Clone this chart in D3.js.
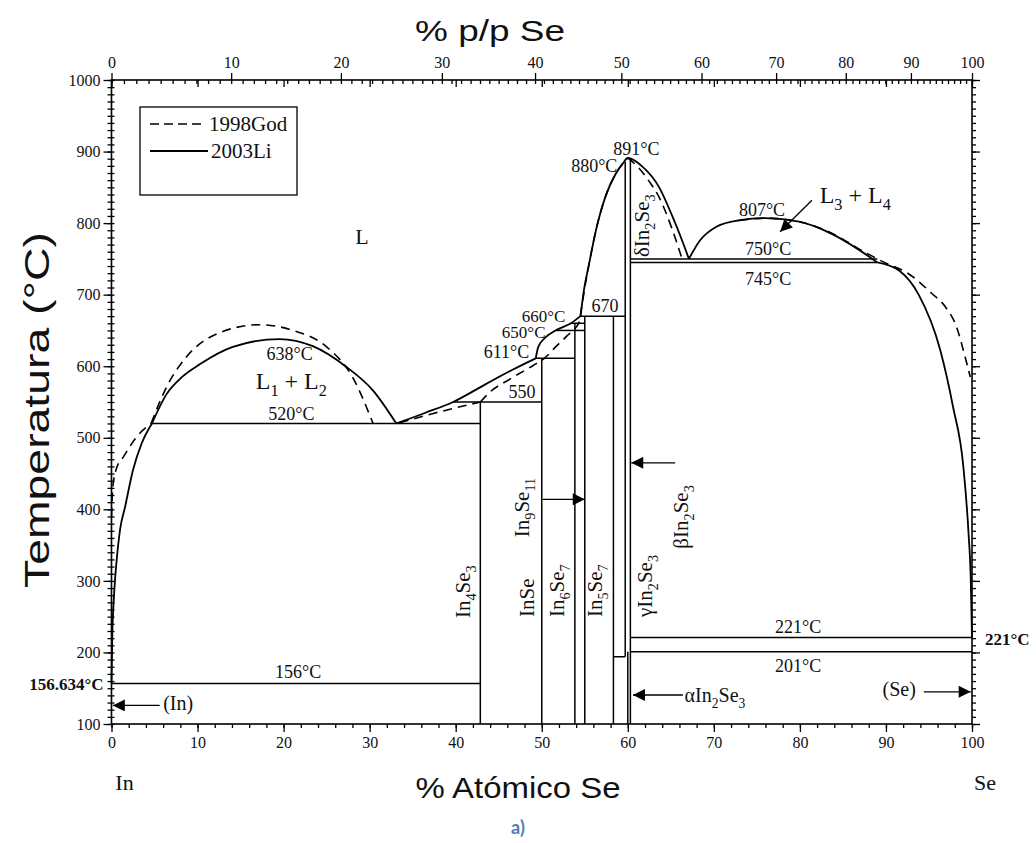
<!DOCTYPE html>
<html>
<head>
<meta charset="utf-8">
<title>In–Se</title>
<script src="https://cdn.jsdelivr.net/npm/d3@7"></script>
<style>
  body { margin: 0; background: #fff; }
  svg { display: block; }
  .serif { font-family: "Liberation Serif", "Times New Roman", serif; fill: #111; }
  .sans { font-family: "Liberation Sans", Arial, sans-serif; fill: #111; }
</style>
</head>
<body>
<svg id="chart" width="1036" height="843"></svg>
<script>
// In–Se phase diagram. Compositions in at.% Se, temperatures in °C.

// 2003Li assessment (solid lines)
const liqInSide   = [[0,156.634],[0.1,230],[0.2,259],[0.4,300],[0.6,329],[1.0,372],[1.57,403],[2.5,455],[3.5,492],[4.7,520]];
const domeL1L2    = [[4.7,520],[6.4,561],[8.2,585],[10.3,603],[14.1,627],[19.5,638],[23.4,628],[27.3,599],[30.4,566],[33.1,520]];
const liqMidA     = [[33.1,520],[36.5,535],[39.7,550],[43.5,575],[46.6,595],[49.3,611]];
const liqMidB     = [[49.3,611],[49.6,627],[50.5,641],[51.6,650],[53.4,660],[54.5,670]];
const liqIn2Se3   = [[54.5,670],[54.9,706],[55.5,743],[56.3,790],[57.4,837],[58.6,869],[59.4,883],[60,891],[61.7,879],[63.6,851],[65.2,809],[66.3,776],[67.1,750]];
const domeL3L4    = [[67.1,750],[68.4,776],[70.3,795],[73,804],[76,807],[79.9,802],[83.7,785],[86.7,764],[89,745]];
const liqSeSide   = [[89,745],[91.6,733],[93.8,700],[96.3,623],[97.8,543],[99,459],[99.6,366],[99.85,305],[100,221]];

// 1998God assessment (dashed lines)
const godInSide   = [[0,390],[0.15,431],[0.6,458],[1.37,473],[2.9,501],[4.6,520]];
const godL1L2     = [[4.6,520],[6.4,571],[8.7,613],[12.2,645],[17.2,658],[21.1,650],[25,627],[28,585],[30.4,520]];
const godMidA     = [[33.5,521],[37.4,534],[42.86,550]];
const godMidB     = [[42.86,550],[43.9,563],[46.3,582],[49,601],[50.2,610],[51.7,628],[52.9,642],[54.4,663],[54.6,679],[55,710],[55.5,743],[56.3,790],[57.4,837],[58.6,869],[59.4,883],[60,891]];
const godIn2Se3R  = [[60,891],[61.2,878],[62.5,858],[63.6,837],[65.2,790],[66.3,750]];
const godSeSide   = [[73,804],[76,807],[79.9,802],[83.7,786],[87,763],[90,744],[92.4,731],[95.3,702],[96.9,683],[98.2,655],[99.2,613],[99.8,585]];

// invariant reactions (horizontal lines)
const isoT    = [156.634, 520, 550, 611, 650, 660, 670, 750, 745, 221, 201, 194];
const isoFrom = [0, 4.7, 39.7, 49.3, 51.6, 53.4, 54.5, 60.3, 60.3, 60.3, 60.3, 58.33];
const isoTo   = [42.86, 42.86, 50, 53.85, 55, 55, 59.7, 89, 89, 100, 100, 59.7];

// compound lines (vertical)
const phaseX      = [42.86, 50, 53.85, 55, 58.33, 59.7, 60.3, 60.0];
const phaseBottom = [100, 100, 100, 100, 100, 194, 100, 100];
const phaseTop    = [550, 611, 660, 670, 670, 886, 891, 201];

// axis ticks
const atTicks  = d3.range(0, 101, 10);
const tTicks   = d3.range(100, 1001, 100);
const wtTicks  = d3.range(0, 101, 10);

const svg = d3.select("#chart");
const x = d3.scaleLinear().domain([0, 100]).range([111.5, 972]);
const y = d3.scaleLinear().domain([100, 1000]).range([724, 80]);

// weight % Se -> atomic % Se
const M_IN = 114.82, M_SE = 78.97;
const wtToAt = w => 100 * (w / M_SE) / (w / M_SE + (100 - w) / M_IN);
const wtAll = d3.range(0, 101, 1);
const xTop = d3.scaleLinear().domain(wtAll).range(wtAll.map(w => x(wtToAt(w))));

// ---- axes ----
function styleAxis(sel, fs) {
  sel.select(".domain").remove();
  sel.selectAll("line").attr("stroke", "#000").attr("stroke-width", 1.3);
  sel.selectAll("text").attr("class", "serif").attr("font-size", fs).attr("fill", "#111");
}
const intFmt = d3.format("d");
const gx = svg.append("g").attr("transform", `translate(0,${y(100)})`)
  .call(d3.axisBottom(x).tickValues(atTicks).tickFormat(intFmt).tickSize(8).tickPadding(5));
styleAxis(gx, 16);
const gxm = svg.append("g").attr("transform", `translate(0,${y(100)})`)
  .call(d3.axisBottom(x).tickValues(d3.range(0, 101, 2)).tickSize(4).tickFormat(""));
styleAxis(gxm, 16);

const gt = svg.append("g").attr("transform", `translate(0,${y(1000)})`)
  .call(d3.axisTop(xTop).tickValues(wtTicks).tickFormat(intFmt).tickSize(7).tickPadding(5));
styleAxis(gt, 16);
const gtm = svg.append("g").attr("transform", `translate(0,${y(1000)})`)
  .call(d3.axisBottom(xTop).tickValues(wtAll).tickSize(4).tickFormat(""));
styleAxis(gtm, 16);
const gti = svg.append("g").attr("transform", `translate(0,${y(1000)})`)
  .call(d3.axisBottom(x).tickValues(atTicks).tickSize(7).tickFormat(""));
styleAxis(gti, 16);

const gy = svg.append("g").attr("transform", `translate(${x(0)},0)`)
  .call(d3.axisLeft(y).tickValues(tTicks).tickFormat(intFmt).tickSize(8).tickPadding(3));
styleAxis(gy, 16);
const gym = svg.append("g").attr("transform", `translate(${x(0)},0)`)
  .call(d3.axisLeft(y).tickValues(d3.range(100, 1001, 10)).tickSize(4).tickFormat(""));
styleAxis(gym, 16);
const gymi = svg.append("g").attr("transform", `translate(${x(0)},0)`)
  .call(d3.axisRight(y).tickValues(d3.range(100, 1001, 10)).tickSize(3).tickFormat(""));
styleAxis(gymi, 16);

const gr = svg.append("g").attr("transform", `translate(${x(100)},0)`)
  .call(d3.axisRight(y).tickValues(tTicks).tickSize(8).tickFormat(""));
styleAxis(gr, 16);
const grm = svg.append("g").attr("transform", `translate(${x(100)},0)`)
  .call(d3.axisRight(y).tickValues(d3.range(100, 1001, 10)).tickSize(4).tickFormat(""));
styleAxis(grm, 16);

// plot frame
svg.append("rect")
  .attr("x", x(0)).attr("y", y(1000))
  .attr("width", x(100) - x(0)).attr("height", y(100) - y(1000))
  .attr("fill", "none").attr("stroke", "#000").attr("stroke-width", 1.6);

// ---- phase boundaries ----
const line = d3.line().x(d => x(d[0])).y(d => y(d[1])).curve(d3.curveMonotoneX);
const bounds = svg.append("g").attr("fill", "none").attr("stroke", "#000");

[liqInSide, domeL1L2, liqMidA, liqMidB, liqIn2Se3, domeL3L4, liqSeSide].forEach(c =>
  bounds.append("path").attr("d", line(c)).attr("stroke-width", 1.8));

[godInSide, godL1L2, godMidA, godMidB, godIn2Se3R, godSeSide].forEach(c =>
  bounds.append("path").attr("d", line(c)).attr("stroke-width", 1.6).attr("stroke-dasharray", "9,6"));

isoT.forEach((t, i) =>
  bounds.append("line")
    .attr("x1", x(isoFrom[i])).attr("x2", x(isoTo[i]))
    .attr("y1", y(t)).attr("y2", y(t)).attr("stroke-width", 1.5));

phaseX.forEach((p, i) =>
  bounds.append("line")
    .attr("x1", x(p)).attr("x2", x(p))
    .attr("y1", y(phaseBottom[i])).attr("y2", y(phaseTop[i])).attr("stroke-width", 1.5));

// ---- arrows ----
svg.append("defs").append("marker")
  .attr("id", "head").attr("viewBox", "0 0 10 10")
  .attr("refX", 10).attr("refY", 5)
  .attr("markerWidth", 16).attr("markerHeight", 12)
  .attr("markerUnits", "userSpaceOnUse").attr("orient", "auto")
  .append("path").attr("d", "M0,0 L10,5 L0,10 Z").attr("fill", "#000");

const arrows = [
  { from: [5.6, 126], to: [0.15, 126] },
  { from: [94.4, 145], to: [99.85, 145] },
  { from: [66.4, 140.5], to: [60.6, 140.5] },
  { from: [65.5, 465], to: [60.4, 465] },
  { from: [50.1, 414], to: [55, 414] },
  { from: [81.4, 832], to: [77.7, 788] }
];
arrows.forEach(a =>
  svg.append("line")
    .attr("x1", x(a.from[0])).attr("y1", y(a.from[1]))
    .attr("x2", x(a.to[0])).attr("y2", y(a.to[1]))
    .attr("stroke", "#000").attr("stroke-width", 1.3)
    .attr("marker-end", "url(#head)"));

// ---- labels ----
// "In_4Se_3": digits after "_" are set as subscripts
function formula(sel, str, fs) {
  const parts = str.split(/_(\d+)/);
  parts.forEach((p, i) => {
    if (!p) return;
    const t = sel.append("tspan").text(p);
    if (i % 2) t.attr("font-size", fs * 0.68).attr("dy", fs * 0.28);
    else if (i > 0) t.attr("dy", -fs * 0.28);
  });
}
function label(txt, at, T, fs, anchor) {
  const t = svg.append("text").attr("class", "serif")
    .attr("x", x(at)).attr("y", y(T))
    .attr("font-size", fs).attr("text-anchor", anchor || "middle");
  formula(t, txt, fs);
  return t;
}
function vlabel(txt, at, T, fs) {
  const t = svg.append("text").attr("class", "serif")
    .attr("transform", `translate(${x(at)},${y(T)}) rotate(-90)`)
    .attr("font-size", fs).attr("text-anchor", "start");
  formula(t, txt, fs);
}

label("L", 29.1, 771, 22);
label("638°C", 20.7, 609, 18);
label("L_1 + L_2", 20.9, 568, 24);
label("520°C", 20.9, 525, 18);
label("156°C", 21.7, 164, 18);
label("550", 47.7, 556, 18);
label("611°C", 45.9, 611.5, 18);
label("650°C", 47.9, 640, 17);
label("660°C", 50.2, 662.5, 17);
label("670", 57.35, 676, 18);
label("880°C", 56.1, 871.5, 18);
label("891°C", 61.0, 895, 18);
label("807°C", 75.6, 810, 18);
label("750°C", 76.3, 755.5, 18);
label("745°C", 76.3, 713.5, 18);
label("221°C", 79.8, 227, 18);
label("201°C", 79.8, 172.5, 18);
label("L_3 + L_4", 82.3, 828, 24, "start");
label("(In)", 6.0, 119.5, 20, "start");
label("(Se)", 89.6, 139, 20, "start");
label("αIn_2Se_3", 66.6, 130.5, 20, "start");

vlabel("In_4Se_3", 41.65, 248, 21);
vlabel("InSe", 49.1, 249.5, 21);
vlabel("In_6Se_7", 52.6, 249.5, 21);
vlabel("In_5Se_7", 57.0, 249.5, 21);
vlabel("γIn_2Se_3", 62.8, 249.5, 21);
vlabel("In_9Se_11", 48.5, 361, 21);
vlabel("βIn_2Se_3", 67.0, 345, 21);
vlabel("δIn_2Se_3", 62.5, 752.6, 21);

// boundary temperatures written outside the frame
svg.append("text").attr("class", "serif")
  .attr("x", x(0) - 8).attr("y", y(147.4)).attr("text-anchor", "end")
  .attr("font-size", 17).attr("font-weight", "bold").text("156.634°C");
svg.append("text").attr("class", "serif")
  .attr("x", x(100) + 13).attr("y", y(210)).attr("text-anchor", "start")
  .attr("font-size", 17).attr("font-weight", "bold").text("221°C");

// ---- legend ----
const lg = svg.append("g");
lg.append("rect").attr("x", 140).attr("y", 107).attr("width", 157).attr("height", 88)
  .attr("fill", "#fff").attr("stroke", "#000").attr("stroke-width", 1.3);
lg.append("line").attr("x1", 150).attr("x2", 206).attr("y1", 124).attr("y2", 124)
  .attr("stroke", "#000").attr("stroke-width", 1.6).attr("stroke-dasharray", "9,5");
lg.append("line").attr("x1", 150).attr("x2", 208).attr("y1", 151).attr("y2", 151)
  .attr("stroke", "#000").attr("stroke-width", 1.8);
lg.append("text").attr("class", "serif").attr("x", 209).attr("y", 131).attr("font-size", 21).text("1998God");
lg.append("text").attr("class", "serif").attr("x", 211).attr("y", 158).attr("font-size", 21).text("2003Li");

// ---- axis titles ----
svg.append("text").attr("class", "sans").attr("x", 490).attr("y", 41)
  .attr("text-anchor", "middle").attr("font-size", 29)
  .attr("textLength", 150).attr("lengthAdjust", "spacingAndGlyphs").text("% p/p Se");
svg.append("text").attr("class", "sans")
  .attr("transform", `translate(49,${(y(100) + y(1000)) / 2 + 8}) rotate(-90)`)
  .attr("text-anchor", "middle").attr("font-size", 35)
  .attr("textLength", 356).attr("lengthAdjust", "spacingAndGlyphs").text("Temperatura (°C)");
svg.append("text").attr("class", "sans").attr("x", 518).attr("y", 798)
  .attr("text-anchor", "middle").attr("font-size", 29)
  .attr("textLength", 205).attr("lengthAdjust", "spacingAndGlyphs").text("% Atómico Se");
svg.append("text").attr("class", "serif").attr("x", x(0) + 13).attr("y", 790)
  .attr("text-anchor", "middle").attr("font-size", 22).text("In");
svg.append("text").attr("class", "serif").attr("x", x(100) + 13).attr("y", 790)
  .attr("text-anchor", "middle").attr("font-size", 22).text("Se");
svg.append("text").attr("x", 518).attr("y", 834).attr("text-anchor", "middle")
  .attr("font-family", "Lato, 'Open Sans', sans-serif").attr("font-weight", "bold")
  .attr("font-size", 18).attr("fill", "#4a7ebb").text("a)");
</script>
</body>
</html>
